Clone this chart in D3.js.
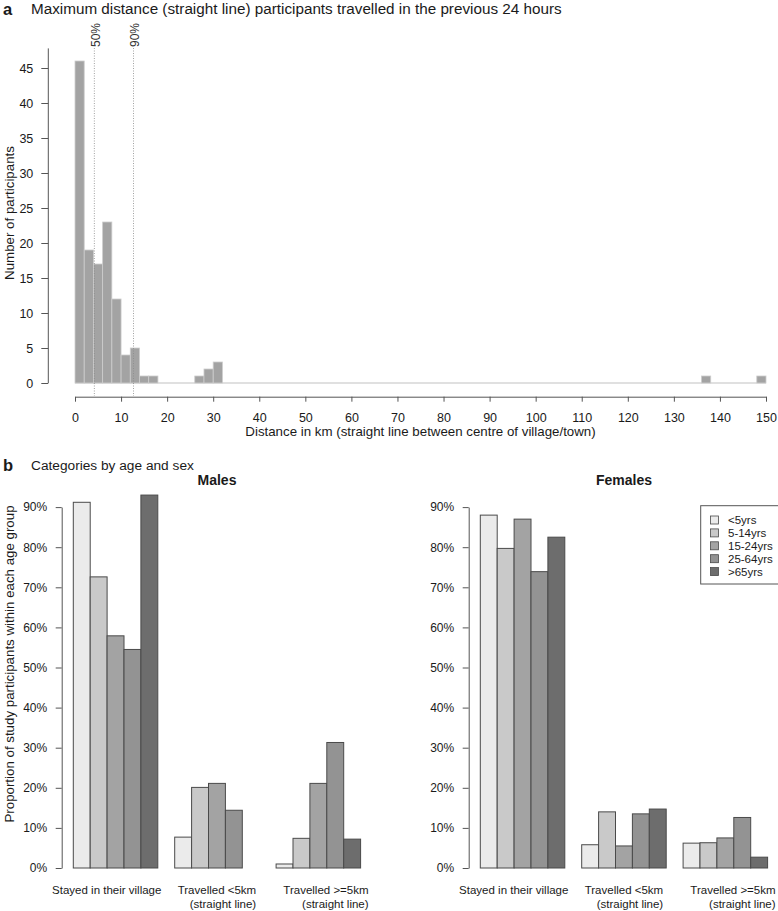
<!DOCTYPE html>
<html><head><meta charset="utf-8">
<script src="https://cdn.jsdelivr.net/npm/d3@7"></script>
<style>
body{margin:0;background:#fff}
svg{display:block;font-family:"Liberation Sans",Arial,sans-serif}
</style>
</head><body>
<svg id="c" width="778" height="911"></svg>
<script>
// ---------- DATA ----------
// Panel a: histogram (2 km bins), only non-empty bins listed by lower edge
const binLower  = [0, 2, 4, 6, 8, 10, 12, 14, 16, 26, 28, 30, 136, 148];
const binCounts = [46, 19, 17, 23, 12, 4, 5, 1, 1, 1, 2, 3, 1, 1];
const binWidth = 2;
const histRange = [0, 150];
const percentileLabels = ["50%", "90%"];
const percentileValues = [4.2, 12.7];
const histXTicks = [0, 10, 20, 30, 40, 50, 60, 70, 80, 90, 100, 110, 120, 130, 140, 150];
const histYTicks = [0, 5, 10, 15, 20, 25, 30, 35, 40, 45];

// Panel b: proportions by category (rows) and age group (columns)
const ageGroups = ["<5yrs", "5-14yrs", "15-24yrs", "25-64yrs", ">65yrs"];
const categories = [["Stayed in their village"], ["Travelled <5km", "(straight line)"], ["Travelled >=5km", "(straight line)"]];
const malesStayed   = [0.912, 0.726, 0.579, 0.545, 0.930];
const malesLt5km    = [0.077, 0.201, 0.211, 0.144, 0.000];
const malesGe5km    = [0.010, 0.074, 0.211, 0.313, 0.072];
const femalesStayed = [0.880, 0.797, 0.870, 0.739, 0.825];
const femalesLt5km  = [0.058, 0.140, 0.055, 0.135, 0.147];
const femalesGe5km  = [0.062, 0.063, 0.075, 0.126, 0.027];
const pctTicks = [0, 0.1, 0.2, 0.3, 0.4, 0.5, 0.6, 0.7, 0.8, 0.9];

// ---------- STYLE / LAYOUT ----------
const ageColors = ["#EBEBEB", "#C9C9C9", "#A3A3A3", "#939393", "#6D6D6D"];
const axisCol = "#555";
const textCol = "#1a1a1a";
const catLabelShift = [-8.8, 0, 7.6];

const svg = d3.select("#c");

// ---------- PANEL A ----------
const hx = d3.scaleLinear().domain(histRange).range([75, 766]);
const hy = d3.scaleLinear().domain([0, 45]).range([383, 68]);

svg.append("text").attr("x", 3).attr("y", 15).attr("font-size", 16.5).attr("font-weight", "bold")
  .attr("fill", textCol).text("a");
svg.append("text").attr("x", 31).attr("y", 14).attr("font-size", 15.25).attr("fill", textCol)
  .text("Maximum distance (straight line) participants travelled in the previous 24 hours");

// zero-height bins baseline
svg.append("line").attr("x1", hx(histRange[0])).attr("x2", hx(histRange[1]))
  .attr("y1", hy(0)).attr("y2", hy(0)).attr("stroke", "#d6d6d6").attr("stroke-width", 1.5);

svg.append("g").selectAll("rect").data(binLower).join("rect")
  .attr("x", d => hx(d))
  .attr("width", d => hx(d + binWidth) - hx(d))
  .attr("y", (d, i) => hy(binCounts[i]))
  .attr("height", (d, i) => hy(0) - hy(binCounts[i]))
  .attr("fill", "#A3A3A3").attr("stroke", "#cdcdcd").attr("stroke-width", 0.8);

// percentile lines
percentileValues.forEach((v, i) => {
  svg.append("line").attr("x1", hx(v)).attr("x2", hx(v)).attr("y1", 48).attr("y2", 396)
    .attr("stroke", "#8a8a8a").attr("stroke-width", 0.8).attr("stroke-dasharray", "1,1.5");
  svg.append("text").attr("transform", `translate(${hx(v) + 1.5},47) rotate(-90)`)
    .attr("dy", "0.35em").attr("font-size", 12).attr("fill", "#333").text(percentileLabels[i]);
});

// y axis
const gya = svg.append("g").attr("transform", "translate(48.3,0)")
  .call(d3.axisLeft(hy).tickValues(histYTicks).tickSize(7).tickPadding(8).tickSizeOuter(0));
gya.select(".domain").remove();
gya.append("line").attr("x1", 0).attr("x2", 0).attr("y1", hy(0)).attr("y2", hy(47.8)).attr("stroke", axisCol);
gya.selectAll(".tick line").attr("stroke", axisCol);
gya.selectAll("text").attr("font-size", 12.5).attr("fill", textCol).attr("font-family", null);

// x axis
const gxa = svg.append("g").attr("transform", "translate(0,396.7)")
  .call(d3.axisBottom(hx).tickValues(histXTicks).tickSize(5).tickPadding(11).tickSizeOuter(0));
gxa.select(".domain").attr("stroke", axisCol);
gxa.selectAll(".tick line").attr("stroke", axisCol);
gxa.selectAll("text").attr("font-size", 12.5).attr("fill", textCol).attr("font-family", null);

svg.append("text").attr("x", 420.5).attr("y", 435.5).attr("text-anchor", "middle")
  .attr("font-size", 13.3).attr("fill", textCol)
  .text("Distance in km (straight line between centre of village/town)");
svg.append("text").attr("transform", "translate(14,213) rotate(-90)").attr("text-anchor", "middle")
  .attr("font-size", 13.3).attr("fill", textCol).text("Number of participants");

// ---------- PANEL B ----------
svg.append("text").attr("x", 3).attr("y", 471).attr("font-size", 16.5).attr("font-weight", "bold")
  .attr("fill", textCol).text("b");
svg.append("text").attr("x", 31).attr("y", 470).attr("font-size", 13.7).attr("fill", textCol)
  .text("Categories by age and sex");
svg.append("text").attr("transform", "translate(14,664) rotate(-90)").attr("text-anchor", "middle")
  .attr("font-size", 13.3).attr("fill", textCol)
  .text("Proportion of study participants within each age group");

const by = d3.scaleLinear().domain([0, 0.9]).range([868, 507.1]);

function panel(title, titleX, axisX, barX0, data) {
  const bx = d3.scaleLinear().domain([0, 17]).range([barX0, barX0 + 17 * 16.9]);
  const w = bx(1) - bx(0);
  svg.append("text").attr("x", titleX).attr("y", 485).attr("text-anchor", "middle")
    .attr("font-size", 14).attr("font-weight", "bold").attr("fill", textCol).text(title);

  const g = svg.append("g").attr("transform", `translate(${axisX},0)`)
    .call(d3.axisLeft(by).tickValues(pctTicks).tickFormat(d3.format(".0%")).tickSize(6).tickPadding(8.5).tickSizeOuter(0));
  g.select(".domain").attr("stroke", axisCol);
  g.selectAll(".tick line").attr("stroke", axisCol);
  g.selectAll("text").attr("font-size", 12).attr("fill", textCol).attr("font-family", null);

  data.forEach((vals, gi) => {
    svg.append("g").selectAll("rect").data(vals).join("rect")
      .attr("x", (d, i) => bx(gi * 6 + i))
      .attr("width", w)
      .attr("y", d => by(d))
      .attr("height", d => by(0) - by(d))
      .attr("fill", (d, i) => ageColors[i])
      .attr("stroke", "#4a4a4a").attr("stroke-width", 1);
    const cx = bx(gi * 6 + 2.5) + catLabelShift[gi];
    const lines = categories[gi];
    const t1 = svg.append("text").attr("x", cx).attr("y", 894).attr("text-anchor", "middle")
      .attr("font-size", 11.5).attr("fill", textCol).text(lines[0]);
    if (lines.length > 1) {
      const wid = t1.node().getComputedTextLength();
      svg.append("text").attr("x", cx + wid / 2).attr("y", 908).attr("text-anchor", "end")
        .attr("font-size", 11.5).attr("fill", textCol).text(lines[1]);
    }
  });
}

panel("Males", 217, 61.7, 73.3, [malesStayed, malesLt5km, malesGe5km]);
panel("Females", 624, 468.7, 480.3, [femalesStayed, femalesLt5km, femalesGe5km]);

// legend
const lg = svg.append("g");
lg.append("rect").attr("x", 700.7).attr("y", 505.7).attr("width", 78).attr("height", 78.3)
  .attr("fill", "#fff").attr("stroke", axisCol);
ageGroups.forEach((a, i) => {
  const yy = 520 + i * 12.9;
  lg.append("rect").attr("x", 710.5).attr("y", yy - 4).attr("width", 8).attr("height", 8)
    .attr("fill", ageColors[i]).attr("stroke", "#4a4a4a").attr("stroke-width", 0.8);
  lg.append("text").attr("x", 728).attr("y", yy).attr("dy", "0.35em").attr("font-size", 11.5)
    .attr("fill", textCol).text(a);
});
</script>
</body></html>
